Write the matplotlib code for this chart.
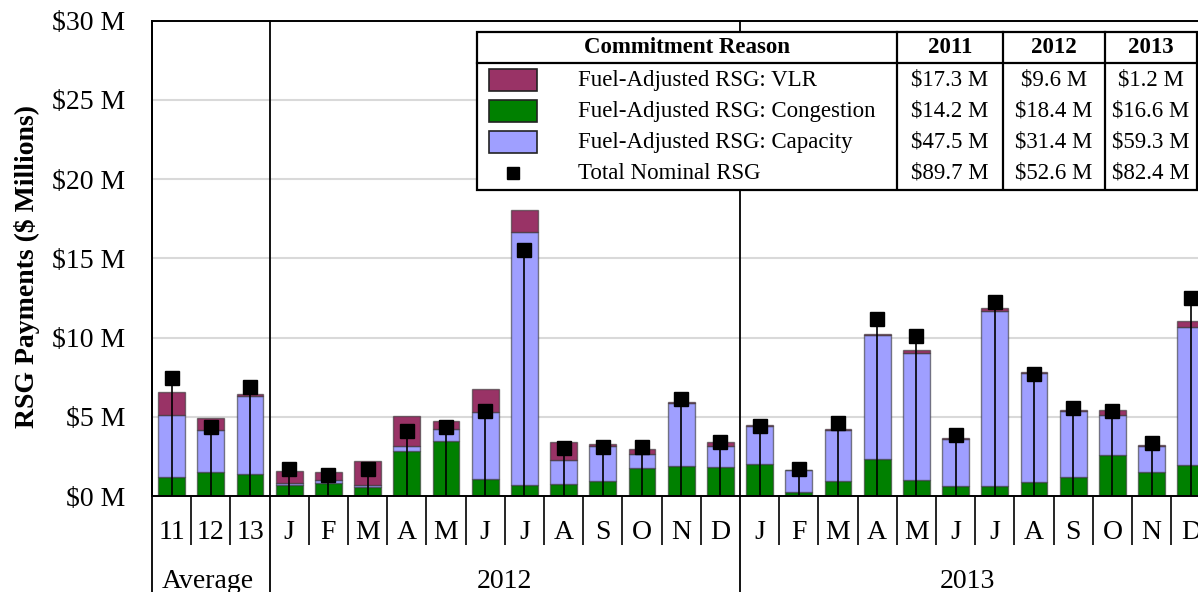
import matplotlib
matplotlib.use("Agg")
import matplotlib.pyplot as plt
from matplotlib.patches import Rectangle
import numpy as np

plt.rcParams['font.family'] = ['Liberation Serif', 'DejaVu Serif']

# ---------------- data ----------------
categories = ['11', '12', '13',
              'J', 'F', 'M', 'A', 'M', 'J', 'J', 'A', 'S', 'O', 'N', 'D',
              'J', 'F', 'M', 'A', 'M', 'J', 'J', 'A', 'S', 'O', 'N', 'D']
groups = ['Average', '2012', '2013']

congestion = [1.18, 1.53, 1.38,
              0.72, 0.84, 0.55, 2.86, 3.49, 1.07, 0.69, 0.76, 0.93, 1.77, 1.91, 1.83,
              2.04, 0.23, 0.97, 2.36, 1.01, 0.61, 0.65, 0.90, 1.22, 2.59, 1.49, 1.96]
capacity = [3.96, 2.62, 4.94,
            0.08, 0.17, 0.14, 0.30, 0.74, 4.25, 16.00, 1.49, 2.25, 0.86, 3.98, 1.33,
            2.40, 1.39, 3.20, 7.82, 7.99, 2.99, 11.05, 6.85, 4.13, 2.50, 1.69, 8.69]
vlr = [1.44, 0.80, 0.10,
       0.80, 0.49, 1.50, 1.89, 0.50, 1.43, 1.37, 1.14, 0.10, 0.36, 0.06, 0.23,
       0.04, 0.05, 0.06, 0.04, 0.20, 0.06, 0.19, 0.06, 0.08, 0.34, 0.02, 0.38]
nominal = [7.48, 4.38, 6.87,
           1.68, 1.31, 1.68, 4.10, 4.33, 5.37, 15.53, 3.01, 3.11, 3.08, 6.10, 3.40,
           4.42, 1.72, 4.59, 11.15, 10.08, 3.83, 12.23, 7.71, 5.57, 5.39, 3.33, 12.50]

table_years = ['2011', '2012', '2013']
table_rows = ['Fuel-Adjusted RSG: VLR', 'Fuel-Adjusted RSG: Congestion',
              'Fuel-Adjusted RSG: Capacity', 'Total Nominal RSG']
table_vlr = ['$17.3 M', '$9.6 M', '$1.2 M']
table_cong = ['$14.2 M', '$18.4 M', '$16.6 M']
table_cap = ['$47.5 M', '$31.4 M', '$59.3 M']
table_tot = ['$89.7 M', '$52.6 M', '$82.4 M']

# ---------------- style ----------------
C_VLR = '#993366'
C_CONG = '#008000'
C_CAP = '#9F9FFF'
EDGE = (0.2, 0.2, 0.2, 0.6)

W, H = 1198, 592
fig = plt.figure(figsize=(W / 100, H / 100), dpi=100)
x0, ytop, ybot, step = 152, 20.8, 496, 39.2
ax = fig.add_axes([x0 / W, (H - ybot) / H, 27 * step / W, (ybot - ytop) / H])

x = np.arange(len(categories))
cong = np.array(congestion)
cap = np.array(capacity)
v = np.array(vlr)

ax.bar(x, cong, width=0.68, color=C_CONG, edgecolor=EDGE, lw=1, zorder=2)
ax.bar(x, cap, width=0.68, bottom=cong, color=C_CAP, edgecolor=EDGE, lw=1, zorder=2)
ax.bar(x, v, width=0.68, bottom=cong + cap, color=C_VLR, edgecolor=EDGE, lw=1, zorder=2)
ax.vlines(x, 0, nominal, color='black', lw=1.2, zorder=4)
ax.plot(x, nominal, 's', color='black', ms=10, zorder=5)

ax.set_xlim(-0.5, len(categories) - 0.5)
ax.set_ylim(0, 30)
yt = np.arange(0, 31, 5)
ax.set_yticks(yt)
ax.set_yticklabels([f'${t} M' for t in yt], fontsize=20)
ax.tick_params(axis='y', length=0, pad=19)
ax.yaxis.grid(True, color='#D9D9D9', lw=1.5)
ax.set_axisbelow(True)

# category labels (minor ticks) and boundary ticks (major)
sep = [2.5, 14.5]
bounds = [b for b in np.arange(0.5, len(categories) - 0.5, 1.0) if b not in sep]
ax.set_xticks(bounds)
ax.set_xticklabels([])
ax.tick_params(axis='x', which='major', length=35, width=1.2, direction='out', color='black')
ax.set_xticks(x, minor=True)
ax.set_xticklabels(categories, minor=True, fontsize=20)
ax.tick_params(axis='x', which='minor', length=0, pad=17)

for s in ['top', 'left', 'bottom']:
    ax.spines[s].set_color('black')
    ax.spines[s].set_linewidth(1.4)
ax.spines['right'].set_visible(False)

ext = -(H - ybot) / (ybot - ytop) - 0.01
xt = ax.get_xaxis_transform()
for b in [-0.5] + sep:
    ax.plot([b, b], [ext, 1], transform=xt, color='black', lw=1.3, clip_on=False, zorder=6)

group_x = [0.93, 8.48, 20.3]
for gx, g in zip(group_x, groups):
    ax.text(gx, -(581 - ybot) / (ybot - ytop), g, transform=xt, ha='center', va='center', fontsize=20)

fig.text(27 / W, 1 - 266 / H, 'RSG Payments ($ Millions)', rotation=90, ha='center', va='center',
         fontsize=20, fontweight='bold')

# ---------------- table ----------------
tl, tr, tt, tb = 477, 1197, 31.7, 189.5
tab = fig.add_axes([tl / W, 1 - tb / H, (tr - tl) / W, (tb - tt) / H])
tab.set_xlim(tl, tr)
tab.set_ylim(tb, tt)
tab.axis('off')
tab.add_patch(Rectangle((tl, tt), tr - tl, tb - tt, facecolor='white', edgecolor='black', lw=1.6,
                        clip_on=False))
col_b = [897, 1003, 1105]
for cb in col_b:
    tab.plot([cb, cb], [tt, tb], color='black', lw=1.6, clip_on=False)
tab.plot([tl, tr], [63.3, 63.3], color='black', lw=1.6, clip_on=False)

col_c = [950, 1054, 1151]
TF = 16.5
tab.text(687, 48, 'Commitment Reason', ha='center', va='center', fontsize=TF, fontweight='bold')
for cc, yr in zip(col_c, table_years):
    tab.text(cc, 48, yr, ha='center', va='center', fontsize=TF, fontweight='bold')

row_y = [80.5, 111.5, 142.5, 173.5]
swatch_cols = [C_VLR, C_CONG, C_CAP]
for ry, sc in zip(row_y[:3], swatch_cols):
    tab.add_patch(Rectangle((489, ry - 11), 48, 22, facecolor=sc, edgecolor='#222222', lw=1.2))
tab.plot([513], [row_y[3]], 's', color='black', ms=9)
for ry, lab in zip(row_y, table_rows):
    tab.text(578, ry, lab, ha='left', va='center', fontsize=TF)
for ry, vals in zip(row_y, [table_vlr, table_cong, table_cap, table_tot]):
    for cc, val in zip(col_c, vals):
        tab.text(cc, ry, val, ha='center', va='center', fontsize=TF)

fig.savefig('out.png', dpi=100)
